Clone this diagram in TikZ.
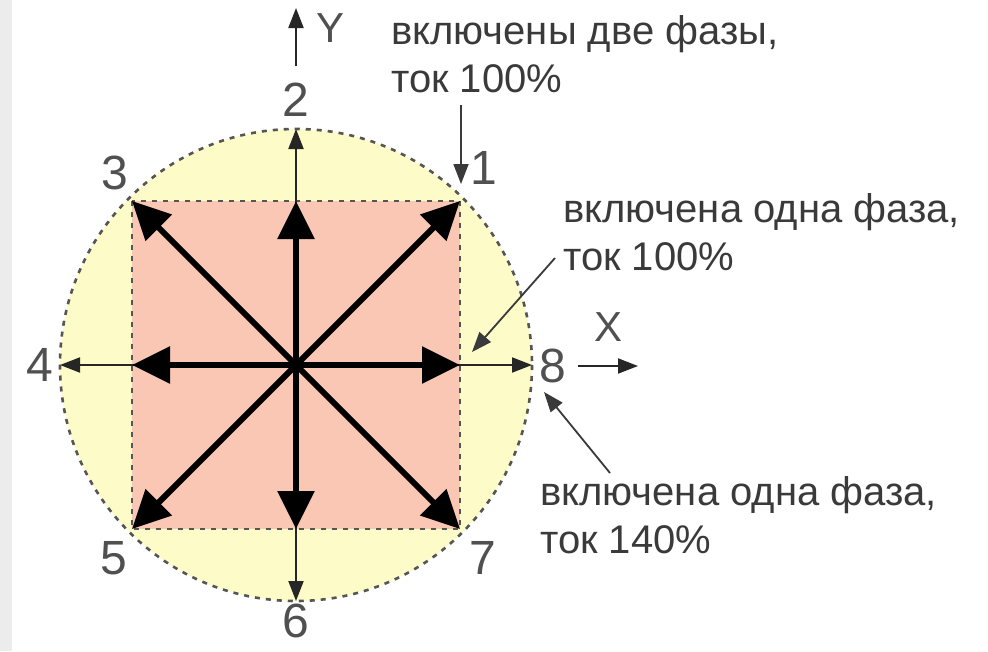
\documentclass[tikz,border=0pt]{standalone}
\usepackage{fontspec}
\setmainfont{Liberation Sans}
\usetikzlibrary{arrows.meta}
\definecolor{circfill}{HTML}{FDFBC8}
\definecolor{sqfill}{HTML}{F9C7B3}
\definecolor{txtgray}{HTML}{3A3A3A}
\definecolor{numgray}{HTML}{505050}
\definecolor{dashgray}{HTML}{555555}
\definecolor{stripgray}{HTML}{ECECEC}
\begin{document}
\begin{tikzpicture}[x=1pt,y=-1pt,
  bigarrow/.style={line width=6pt, draw=black, -{Triangle[length=38pt,width=36pt]}},
  smallarrow/.style={line width=2pt, draw=black!85, -{Triangle[length=20pt,width=15pt]}},
  notearrow/.style={line width=1.8pt, draw=txtgray, -{Triangle[length=20pt,width=15pt]}},
  outline/.style={draw=dashgray, line width=2.6pt, dash pattern=on 5pt off 6pt},
  numlabel/.style={text=numgray, font=\fontsize{48}{48}\selectfont, inner sep=0pt},
  axislabel/.style={text=numgray, font=\fontsize{42}{42}\selectfont, inner sep=0pt},
  note/.style={text=txtgray, font=\fontsize{40}{48}\selectfont, align=left, inner sep=0pt, anchor=base west}]
\useasboundingbox (0,0) rectangle (988,651);
\fill[white] (0,0) rectangle (988,651);
\fill[stripgray] (0,0) rectangle (12,651);
% geometry
\coordinate (O) at (296,365);
\coordinate (c1) at (460,201);
\coordinate (c3) at (132,201);
\coordinate (c5) at (132,529);
\coordinate (c7) at (460,529);
\coordinate (m2) at (296,201);
\coordinate (m4) at (132,365);
\coordinate (m6) at (296,529);
\coordinate (m8) at (460,365);
\coordinate (p2) at (296,129);
\coordinate (p4) at (60,365);
\coordinate (p6) at (296,601);
\coordinate (p8) at (532,365);
% fills
\fill[circfill] (O) circle[radius=236];
\fill[sqfill] (c3) rectangle (c7);
\draw[outline] (O) circle[radius=236];
\draw[outline] (c3) rectangle (c7);
% thin axis arrows
\draw[smallarrow] (O) -- (p2);
\draw[smallarrow] (O) -- (p4);
\draw[smallarrow] (O) -- (p6);
\draw[smallarrow] (O) -- (p8);
% thick arrows
\foreach \t in {c1,c3,c5,c7,m2,m4,m6,m8}{\draw[bigarrow] (O) -- (\t);}
\fill[black] (O) circle[radius=5];
% number labels
\node[numlabel] (n1) at (484,168) {1};
\node[numlabel] (n2) at (296,100) {2};
\node[numlabel] (n3) at (115,173) {3};
\node[numlabel] (n4) at (40,365) {4};
\node[numlabel] (n5) at (114,558) {5};
\node[numlabel] (n6) at (296,621) {6};
\node[numlabel] (n7) at (483,558) {7};
\node[numlabel] (n8) at (553,366) {8};
% axes
\coordinate (yb) at (296,66);
\coordinate (yt) at (296,8);
\draw[smallarrow] (yb) -- (yt);
\node[axislabel] (ylab) at (331,28) {Y};
\coordinate (xb) at (578,366);
\coordinate (xt) at (638,366);
\draw[smallarrow] (xb) -- (xt);
\node[axislabel] (xlab) at (608,327) {X};
% notes
\node[note] (t1) at (391,92) {включены две фазы,\\ток 100\%};
\node[note] (t2) at (563,270) {включена одна фаза,\\ток 100\%};
\node[note] (t3) at (540,553) {включена одна фаза,\\ток 140\%};
\coordinate (a1s) at (461,105);
\coordinate (a1e) at (461,184);
\coordinate (a2s) at (555,258);
\coordinate (a2e) at (472,352);
\coordinate (a3s) at (610,473);
\coordinate (a3e) at (544,392);
\draw[notearrow] (a1s) -- (a1e);
\draw[notearrow] (a2s) -- (a2e);
\draw[notearrow] (a3s) -- (a3e);
\end{tikzpicture}
\end{document}
